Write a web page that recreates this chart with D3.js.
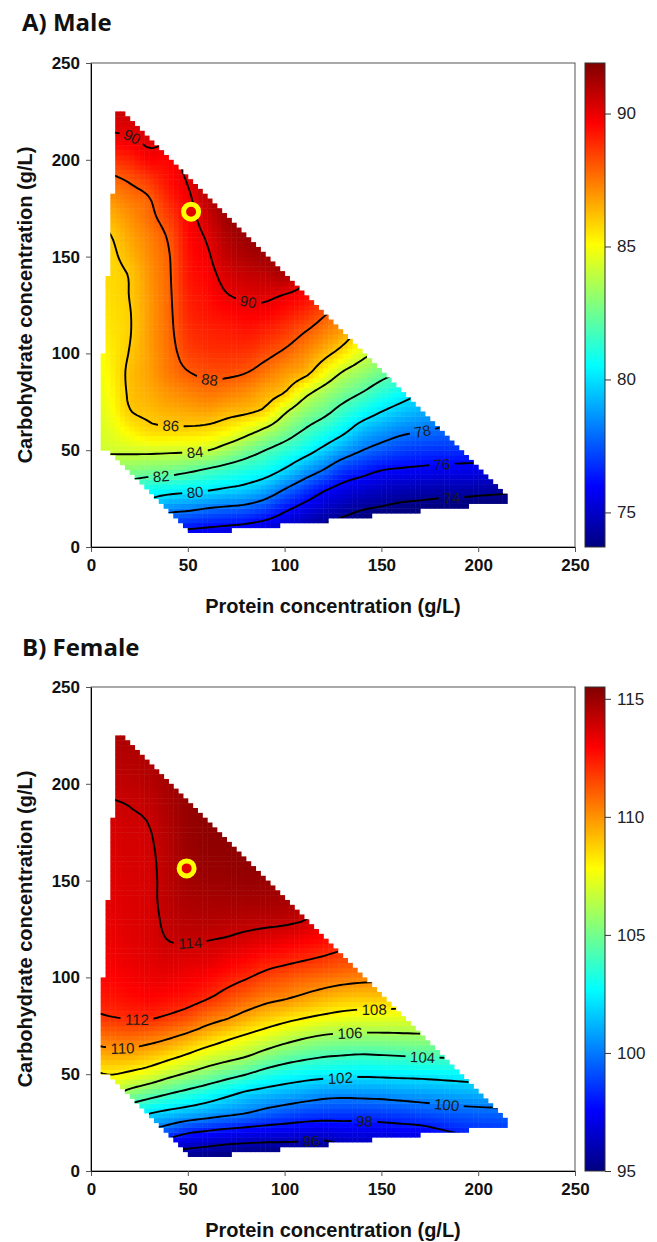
<!DOCTYPE html>
<html>
<head>
<meta charset="utf-8">
<script src="https://cdn.jsdelivr.net/npm/d3@7"></script>
<style>
  body { margin: 0; background: #fff; }
  .ax .tick text { font-family: "Liberation Sans", Arial, sans-serif; font-weight: bold; font-size: 17px; fill: #111; }
  .ax .tick line { stroke: #555; }
  .ax .domain { stroke: #000; }
  .cb .tick text { font-family: "Liberation Sans", Arial, sans-serif; font-size: 17px; fill: #222; }
  .cb .tick line { stroke: #333; }
  .cb .domain { display: none; }
</style>
</head>
<body>
<div id="chart"></div>
<script>
// fitted surface on a 10 g/L grid
// one array per protein level, values for carbohydrate 0..230 g/L
var proteinLevels = [0,10,20,30,40,50,60,70,80,90,100,110,120,130,140,150,160,170,180,190,200,210,220];
var carbLevels = [0,10,20,30,40,50,60,70,80,90,100,110,120,130,140,150,160,170,180,190,200,210,220,230];

var maleGrid = [
  [74.5,76.8,79.2,81.8,83.0,84.1,84.2,84.3,84.5,84.6,84.7,85.0,85.2,85.4,85.4,85.4,85.5,85.9,86.5,87.3,88.5,89.5,90.2,90.6],
  [75.0,77.2,79.4,81.6,82.95,84.2,84.6,84.9,85.1,85.25,85.35,85.5,85.6,85.7,85.75,85.8,85.95,86.4,87.0,87.75,88.75,89.7,90.3,90.7],
  [75.0,77.0,79.2,81.2,82.9,84.25,85.2,85.95,86.15,86.2,86.05,85.95,85.95,86.02,86.05,86.35,86.65,87.0,87.5,88.15,89.0,89.85,90.35,90.7],
  [74.6,76.8,79.2,80.8,82.7,84.3,85.7,86.2,86.55,86.75,86.8,86.85,86.85,86.9,87.0,87.15,87.35,87.7,87.95,88.7,89.6,90.2,90.5,90.8],
  [74.2,76.5,78.5,80.6,82.6,84.25,85.75,86.45,87.0,87.45,87.6,87.7,87.75,87.8,87.85,87.9,88.1,88.5,89.0,89.4,89.6,90.1,90.3,90.5],
  [74.0,76.2,78.3,80.4,82.3,84.2,85.75,86.6,87.3,87.95,88.4,88.7,88.9,89.05,89.2,89.3,89.45,89.6,89.8,90.1,90.4,90.6,90.8,91.0],
  [73.8,76.0,78.0,80.2,81.9,84.05,85.6,86.7,87.55,88.2,88.7,89.0,89.25,89.45,89.65,89.85,90.1,90.45,90.8,91.1,91.3,91.4,91.5,91.6],
  [73.6,75.8,77.8,79.9,81.5,83.4,85.2,86.4,87.4,88.2,88.75,89.1,89.45,89.95,90.3,90.7,91.0,91.3,91.45,91.5,91.6,91.6,91.6,91.6],
  [73.4,75.6,77.6,79.6,81.1,82.7,84.5,86.2,87.1,88.02,88.7,89.2,89.65,90.15,90.6,91.05,91.4,91.6,91.6,91.6,91.6,91.6,91.6,91.6],
  [73.3,75.3,77.1,79.0,80.7,82.0,83.7,85.7,86.6,87.5,88.3,88.95,89.6,90.2,90.75,91.3,91.55,91.6,91.6,91.6,91.6,91.6,91.6,91.6],
  [73.2,74.9,76.3,78.02,79.9,81.35,82.8,84.2,86.02,86.9,87.8,88.55,89.25,89.95,91.0,91.4,91.5,91.5,91.5,91.5,91.5,91.5,91.5,91.5],
  [73.0,74.4,75.6,77.1,78.9,80.6,81.9,83.1,84.5,86.4,87.2,87.95,88.8,89.6,90.3,90.9,91.2,91.2,91.2,91.2,91.2,91.2,91.2,91.2],
  [72.6,73.8,75.0,76.2,78.02,79.7,81.1,82.4,83.5,85.1,86.4,87.3,88.1,88.9,89.6,90.2,90.6,90.6,90.6,90.6,90.6,90.6,90.6,90.6],
  [72.4,73.4,74.5,75.6,77.0,78.8,80.3,81.5,82.7,83.9,85.5,86.6,87.4,88.1,88.8,89.4,89.9,89.9,89.9,89.9,89.9,89.9,89.9,89.9],
  [72.2,73.1,74.1,75.2,76.5,78.02,79.3,80.7,82.02,83.2,84.4,85.6,86.7,87.6,88.4,89.0,89.5,89.5,89.5,89.5,89.5,89.5,89.5,89.5],
  [72.0,72.9,73.9,74.9,76.05,77.5,78.75,80.02,81.25,82.5,83.75,85.0,86.2,87.2,88.1,88.6,88.6,88.6,88.6,88.6,88.6,88.6,88.6,88.6],
  [71.8,72.7,73.7,74.7,75.9,77.1,78.3,79.5,80.65,81.9,83.1,84.3,85.5,86.6,87.5,88.1,88.1,88.1,88.1,88.1,88.1,88.1,88.1,88.1],
  [71.7,72.6,73.6,74.6,75.8,76.9,78.05,79.1,80.1,81.3,82.5,83.7,84.9,86.02,87.0,87.5,87.5,87.5,87.5,87.5,87.5,87.5,87.5,87.5],
  [71.6,72.5,73.5,74.5,75.7,76.8,77.85,78.8,79.7,80.7,81.8,83.0,84.2,85.3,86.3,86.3,86.3,86.3,86.3,86.3,86.3,86.3,86.3,86.3],
  [71.5,72.4,73.4,74.5,75.65,76.75,77.7,78.6,79.5,80.4,81.4,82.5,83.5,84.5,85.5,85.5,85.5,85.5,85.5,85.5,85.5,85.5,85.5,85.5],
  [71.5,72.3,73.3,74.4,75.6,76.7,77.6,78.5,79.4,80.3,81.2,82.2,83.2,84.2,85.0,85.0,85.0,85.0,85.0,85.0,85.0,85.0,85.0,85.0],
  [71.5,72.3,73.3,74.3,75.5,76.6,77.5,78.4,79.3,80.2,81.1,82.1,83.1,84.1,84.8,84.8,84.8,84.8,84.8,84.8,84.8,84.8,84.8,84.8],
  [71.5,72.3,73.2,74.2,75.4,76.5,77.4,78.3,79.2,80.1,81.0,81.9,82.9,83.9,84.7,84.7,84.7,84.7,84.7,84.7,84.7,84.7,84.7,84.7]
];

var femaleGrid = [
  [99.0,100.5,102.02,103.5,105.5,107.7,109.35,110.6,111.8,112.4,112.75,113.0,113.15,113.3,113.4,113.45,113.5,113.6,113.7,113.85,114.05,114.25,114.4,114.5],
  [99.5,101.0,102.6,104.3,106.3,108.05,109.5,110.8,112.02,112.55,112.9,113.15,113.3,113.4,113.5,113.55,113.6,113.7,113.8,113.95,114.15,114.35,114.5,114.6],
  [97.5,99.5,101.3,102.9,105.4,107.7,109.45,110.9,112.15,112.75,113.1,113.35,113.5,113.6,113.65,113.7,113.75,113.8,113.9,114.03,114.25,114.4,114.55,114.65],
  [95.5,97.5,99.85,102.1,104.7,107.2,109.1,110.7,112.2,112.9,113.3,113.55,113.7,113.75,113.8,113.8,113.83,113.9,114.02,114.2,114.4,114.55,114.65,114.7],
  [94.5,96.0,98.95,101.6,104.05,106.45,108.55,110.3,111.9,112.75,113.3,113.7,114.03,114.2,114.3,114.33,114.38,114.45,114.55,114.65,114.75,114.8,114.85,114.9],
  [94.5,95.7,98.15,101.2,103.5,105.8,107.9,109.75,111.45,112.55,113.1,113.6,114.1,114.4,114.6,114.75,114.85,114.95,115.0,115.05,115.1,115.1,115.1,115.1],
  [94.4,95.5,97.8,100.8,102.95,105.2,107.2,109.1,110.75,112.15,112.9,113.55,114.05,114.45,114.7,114.9,115.05,115.15,115.2,115.25,115.25,115.25,115.25,115.25],
  [94.3,95.3,97.5,100.4,102.35,104.6,106.7,108.45,110.25,111.55,112.5,113.25,113.95,114.4,114.75,114.95,115.1,115.2,115.25,115.25,115.25,115.25,115.25,115.25],
  [94.2,95.2,97.3,100.05,101.75,104.05,106.2,107.9,109.6,111.0,112.1,112.95,113.75,114.35,114.75,115.0,115.15,115.25,115.25,115.25,115.25,115.25,115.25,115.25],
  [94.1,95.1,97.15,99.55,101.4,103.4,105.5,107.35,109.05,110.5,111.65,112.6,113.55,114.3,114.75,115.0,115.2,115.2,115.2,115.2,115.2,115.2,115.2,115.2],
  [94.0,95.1,97.05,99.2,101.1,102.95,104.9,106.8,108.6,110.2,111.3,112.4,113.35,114.25,114.7,115.0,115.1,115.1,115.1,115.1,115.1,115.1,115.1,115.1],
  [94.0,95.05,96.95,98.9,100.8,102.65,104.5,106.3,108.2,109.8,111.0,112.15,113.1,114.05,114.5,114.8,114.8,114.8,114.8,114.8,114.8,114.8,114.8,114.8],
  [93.9,94.95,96.85,98.75,100.5,102.45,104.2,105.95,107.85,109.4,110.75,111.9,112.8,113.6,114.2,114.5,114.5,114.5,114.5,114.5,114.5,114.5,114.5,114.5],
  [94.0,95.4,97.05,98.7,100.4,102.35,104.05,105.8,107.6,109.1,110.5,111.6,112.6,113.4,114.05,114.3,114.3,114.3,114.3,114.3,114.3,114.3,114.3,114.3],
  [94.1,95.5,97.05,98.7,100.45,102.25,103.95,105.75,107.45,109.0,110.35,111.5,112.5,113.3,113.9,113.9,113.9,113.9,113.9,113.9,113.9,113.9,113.9,113.9],
  [94.2,95.6,97.15,98.8,100.5,102.3,104.02,105.75,107.45,109.0,110.3,111.4,112.4,113.2,113.7,113.7,113.7,113.7,113.7,113.7,113.7,113.7,113.7,113.7],
  [94.4,95.8,97.3,98.9,100.65,102.35,104.1,105.8,107.4,108.9,110.2,111.2,112.1,112.9,113.4,113.4,113.4,113.4,113.4,113.4,113.4,113.4,113.4,113.4],
  [94.6,96.0,97.4,99.1,100.75,102.4,104.2,105.85,107.4,108.9,110.05,111.1,112.02,112.8,113.2,113.2,113.2,113.2,113.2,113.2,113.2,113.2,113.2,113.2],
  [94.9,96.3,97.75,99.3,100.85,102.5,104.25,105.9,107.4,108.8,110.05,111.0,111.9,112.6,113.0,113.0,113.0,113.0,113.0,113.0,113.0,113.0,113.0,113.0],
  [95.2,96.6,98.1,99.45,101.0,102.6,104.3,105.9,107.4,108.7,109.9,110.9,111.7,112.4,112.8,112.8,112.8,112.8,112.8,112.8,112.8,112.8,112.8,112.8],
  [95.4,96.8,98.3,99.55,101.1,102.7,104.3,105.85,107.3,108.6,109.8,110.7,111.5,112.2,112.6,112.6,112.6,112.6,112.6,112.6,112.6,112.6,112.6,112.6],
  [95.5,96.9,98.4,99.6,101.15,102.75,104.3,105.8,107.2,108.5,109.7,110.6,111.4,112.1,112.5,112.5,112.5,112.5,112.5,112.5,112.5,112.5,112.5,112.5],
  [95.5,96.9,98.4,99.6,101.15,102.75,104.3,105.8,107.2,108.5,109.7,110.6,111.4,112.1,112.5,112.5,112.5,112.5,112.5,112.5,112.5,112.5,112.5,112.5]
];

// outline of the diet space that was sampled (protein, carbohydrate)
var dietHull = [[13.9,226.6],[215.5,25],[215.5,23.5],[52.5,6.6],[11,48.5],[5.0,51.5],[4.9,76.3]];

var maleLevels = [74,76,78,80,82,84,86,88,90];
var femaleLevels = [96,98,100,102,104,106,108,110,112,114];

// contour labels: [level, protein, carbohydrate]
var maleLabels = [[90,21,211],[90,80.4,126.7],[88,61.5,86.3],[86,40.8,63],[84,52.8,48.7],
                  [82,37.3,36.3],[80,54.6,28],[78,170.8,59],[76,182,42.4],[74,187.2,25.6]];
var femaleLabels = [[114,50.3,117.4],[112,22.7,78.4],[110,15,62.4],[108,145.8,83.4],[106,134.7,71],
                    [104,170,58.6],[102,129.5,48.1],[100,183.7,34.5],[98,140,25.6],[96,114,15]];

var maleOptimum = [51.7,173.2];
var femaleOptimum = [49.4,156.3];

var maleRange = [73.7,91.9];
var femaleRange = [95.0,115.5];
var maleBarTicks = [75,80,85,90];
var femaleBarTicks = [95,100,105,110,115];
var axisTicks = [0,50,100,150,200,250];

// jet colour map
var jetStops = [0,0.125,0.375,0.625,0.875,1];
var jetColors = ["#000080","#0000ff","#00ffff","#ffff00","#ff0000","#800000"];
var jet = d3.scaleLinear().domain(jetStops).range(jetColors).interpolate(d3.interpolateRgb).clamp(true);

var W = 657, H = 1242;
var step = 2.5, nx = 88, ny = 92;
var font = '"Liberation Sans", Arial, sans-serif';

var svg = d3.select("#chart").append("svg").attr("width", W).attr("height", H);
var defs = svg.append("defs");

// smooth read-out of the 10 g/L grid (Catmull-Rom both ways)
function sampler(grid) {
  var dp = proteinLevels[1] - proteinLevels[0], dc = carbLevels[1] - carbLevels[0];
  var ni = grid.length, nj = grid[0].length;
  function g(i, j) {
    i = Math.max(0, Math.min(ni - 1, i));
    j = Math.max(0, Math.min(nj - 1, j));
    return grid[i][j];
  }
  function cr(p0, p1, p2, p3, t) {
    return 0.5 * (2 * p1 + (-p0 + p2) * t + (2 * p0 - 5 * p1 + 4 * p2 - p3) * t * t + (-p0 + 3 * p1 - 3 * p2 + p3) * t * t * t);
  }
  return function(px, py) {
    var fx = px / dp, fy = py / dc, i = Math.floor(fx), j = Math.floor(fy);
    var tx = fx - i, ty = fy - j, col = [];
    for (var a = -1; a <= 2; a++) col.push(cr(g(i + a, j - 1), g(i + a, j), g(i + a, j + 1), g(i + a, j + 2), ty));
    return cr(col[0], col[1], col[2], col[3], tx);
  };
}

function drawPanel(p) {
  var top = p.top, bottom = p.top + 484;
  var x = d3.scaleLinear().domain([0, 250]).range([91, 575]);
  var y = d3.scaleLinear().domain([0, 250]).range([bottom, top]);
  var tz = d3.scaleLinear().domain(p.range).range([0, 1]).clamp(true);
  var f = sampler(p.grid);
  var cw = x(step) - x(0);

  var values = new Array(nx * ny), cells = [];
  for (var j = 0; j < ny; j++) {
    for (var i = 0; i < nx; i++) {
      var xc = (i + 0.5) * step, yc = (j + 0.5) * step, v = f(xc, yc);
      values[j * nx + i] = v;
      if (d3.polygonContains(dietHull, [xc, yc])) cells.push({i: i, j: j, v: v});
    }
  }

  // title
  svg.append("text").attr("x", 22).attr("y", p.titleY)
    .attr("font-family", '"Open Sans", sans-serif').attr("font-weight", "bold")
    .attr("font-size", "24px").attr("fill", "#111").text(p.title);

  // surface cells
  svg.append("g").selectAll("rect").data(cells).join("rect")
    .attr("x", function(d) { return x(d.i * step); })
    .attr("y", function(d) { return y((d.j + 1) * step); })
    .attr("width", cw + 0.5).attr("height", cw + 0.5)
    .attr("fill", function(d) { return jet(tz(d.v)); });

  var clipD = cells.map(function(d) {
    return "M" + x(d.i * step) + "," + y((d.j + 1) * step) + "h" + cw + "v" + cw + "h" + (-cw) + "Z";
  }).join("");
  defs.append("clipPath").attr("id", "clip-" + p.id).append("path").attr("d", clipD);

  // contours
  var contours = d3.contours().size([nx, ny]).thresholds(p.levels)(values);
  var path = d3.geoPath(d3.geoTransform({
    point: function(px, py) { this.stream.point(x(px * step), y(py * step)); }
  }));

  var mask = defs.append("mask").attr("id", "mask-" + p.id)
    .attr("maskUnits", "userSpaceOnUse").attr("x", 0).attr("y", 0).attr("width", W).attr("height", H);
  mask.append("rect").attr("width", W).attr("height", H).attr("fill", "#fff");

  var lines = svg.append("g").attr("clip-path", "url(#clip-" + p.id + ")")
    .append("g").attr("mask", "url(#mask-" + p.id + ")");
  lines.selectAll("path").data(contours).join("path")
    .attr("d", path).attr("fill", "none").attr("stroke", "#000").attr("stroke-width", 1.9);

  var labelG = svg.append("g");
  p.labels.forEach(function(lab) {
    var c = contours.find(function(d) { return d.value === lab[0]; });
    var lx = x(lab[1]), ly = y(lab[2]), best = null, bd = Infinity;
    c.coordinates.forEach(function(poly) {
      poly.forEach(function(ring) {
        ring.forEach(function(pt, k) {
          var dx = x(pt[0] * step) - lx, dy = y(pt[1] * step) - ly, d = dx * dx + dy * dy;
          if (d < bd) { bd = d; best = {ring: ring, k: k}; }
        });
      });
    });
    var r = best.ring, n = r.length, q = r[best.k];
    var qx = x(q[0] * step), qy = y(q[1] * step);
    // direction of the line over about 12 px either side of the label
    function reach(dir) {
      var k = best.k, pt = q;
      for (var s = 0; s < n; s++) {
        k = (k + dir + n) % n;
        pt = r[k];
        var dx = x(pt[0] * step) - qx, dy = y(pt[1] * step) - qy;
        if (dx * dx + dy * dy > 144) break;
      }
      return pt;
    }
    var a = reach(-1), b = reach(1);
    var ang = Math.atan2(y(b[1] * step) - y(a[1] * step), x(b[0] * step) - x(a[0] * step)) * 180 / Math.PI;
    if (ang > 90) ang -= 180;
    if (ang < -90) ang += 180;
    var txt = labelG.append("text")
      .attr("transform", "translate(" + qx + "," + qy + ") rotate(" + ang + ")")
      .attr("text-anchor", "middle").attr("dy", "0.36em")
      .attr("font-family", font).attr("font-size", "15px").attr("fill", "#1a1a1a")
      .text(lab[0]);
    var w = txt.node().getComputedTextLength() + 9;
    mask.append("rect").attr("x", -w / 2).attr("y", -7.5).attr("width", w).attr("height", 15)
      .attr("fill", "#000").attr("transform", "translate(" + qx + "," + qy + ") rotate(" + ang + ")");
  });

  // optimum marker
  svg.append("circle").attr("cx", x(p.optimum[0])).attr("cy", y(p.optimum[1])).attr("r", 7.5)
    .attr("fill", "#e00000").attr("stroke", "#ffff00").attr("stroke-width", 5);

  // frame and axes
  svg.append("rect").attr("x", 91).attr("y", top).attr("width", 484).attr("height", 484)
    .attr("fill", "none").attr("stroke", "#555").attr("stroke-width", 1);

  svg.append("g").attr("class", "ax").attr("transform", "translate(0," + bottom + ")")
    .call(d3.axisBottom(x).tickValues(axisTicks).tickSize(5).tickSizeOuter(0).tickPadding(7));
  svg.append("g").attr("class", "ax").attr("transform", "translate(91,0)")
    .call(d3.axisLeft(y).tickValues(axisTicks).tickSize(5).tickSizeOuter(0).tickPadding(6));

  svg.append("text").attr("x", 333).attr("y", bottom + 66).attr("text-anchor", "middle")
    .attr("font-family", font).attr("font-weight", "bold").attr("font-size", "20px").attr("fill", "#111")
    .text("Protein concentration (g/L)");
  svg.append("text").attr("transform", "translate(32," + (top + 242) + ") rotate(-90)")
    .attr("text-anchor", "middle")
    .attr("font-family", font).attr("font-weight", "bold").attr("font-size", "20px").attr("fill", "#111")
    .text("Carbohydrate concentration (g/L)");

  // colour bar
  var grad = defs.append("linearGradient").attr("id", "grad-" + p.id)
    .attr("x1", 0).attr("y1", 1).attr("x2", 0).attr("y2", 0);
  jetStops.forEach(function(s, k) {
    grad.append("stop").attr("offset", s).attr("stop-color", jetColors[k]);
  });
  svg.append("rect").attr("x", 585).attr("y", top).attr("width", 20).attr("height", 484)
    .attr("fill", "url(#grad-" + p.id + ")").attr("stroke", "#333").attr("stroke-width", 1);
  var cb = d3.scaleLinear().domain(p.range).range([bottom, top]);
  svg.append("g").attr("class", "cb").attr("transform", "translate(605,0)")
    .call(d3.axisRight(cb).tickValues(p.barTicks).tickSize(6).tickPadding(6));
}

drawPanel({id: "male", title: "A) Male", grid: maleGrid, levels: maleLevels, labels: maleLabels,
  optimum: maleOptimum, range: maleRange, barTicks: maleBarTicks, top: 63, titleY: 31});
drawPanel({id: "female", title: "B) Female", grid: femaleGrid, levels: femaleLevels, labels: femaleLabels,
  optimum: femaleOptimum, range: femaleRange, barTicks: femaleBarTicks, top: 687, titleY: 656});
</script>
</body>
</html>
